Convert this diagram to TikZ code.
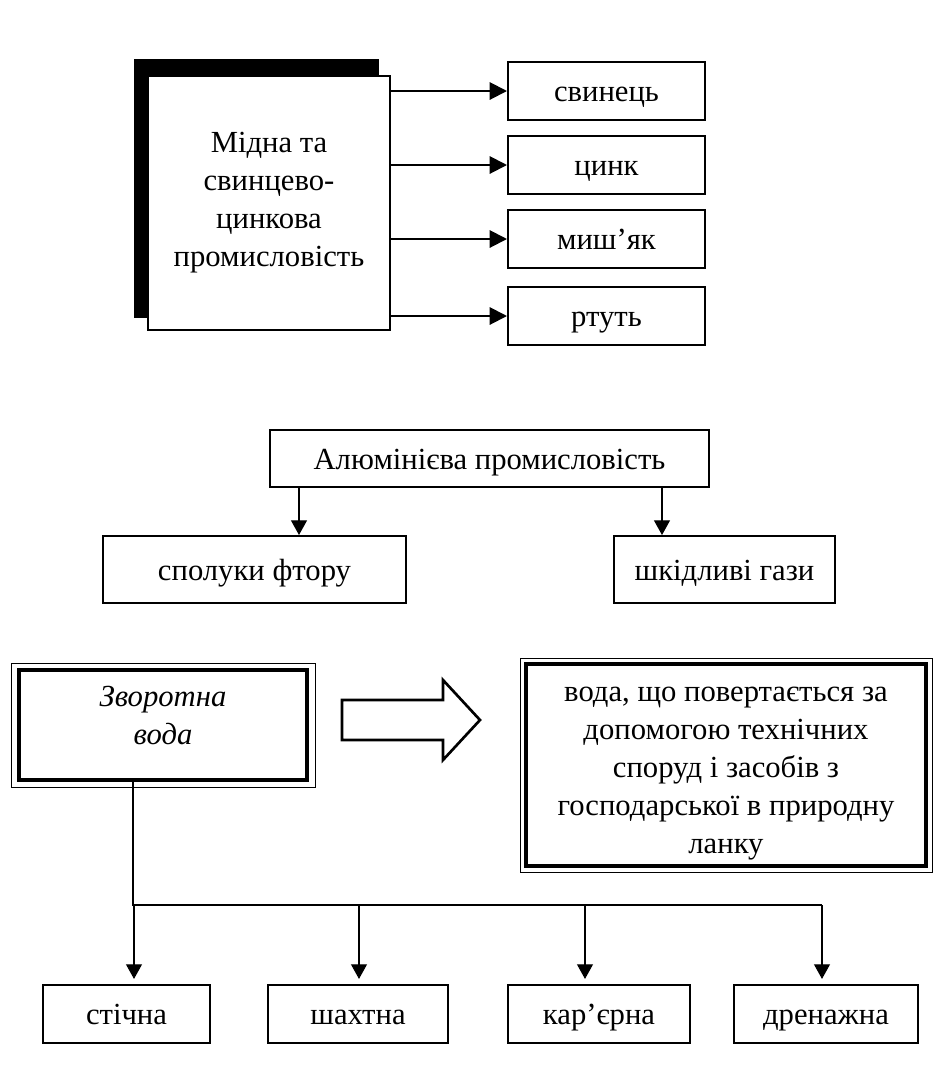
\documentclass[tikz,border=0pt]{standalone}
\usepackage{fontspec}
\setmainfont{Liberation Serif}
\usetikzlibrary{arrows.meta,backgrounds}

\begin{document}
\begin{tikzpicture}[x=0.75pt,y=0.75pt,yscale=-1,xscale=1,
  txt/.style={font=\fontsize{23}{28.5}\selectfont},
  box/.style={draw,line width=1.5pt,fill=white,inner sep=0pt,align=center,txt},
  oneline/.style={box,text height=16pt,text depth=0pt},
  lowbox/.style={oneline,line width=1.1pt,minimum height=43.5pt},
  heavybox/.style={box,line width=3pt},
  arr/.style={line width=1.5pt,-{Triangle[length=13pt,width=13pt]}},
  tarr/.style={line width=0.8pt,-{Triangle[length=11pt,width=12pt]}}]
\useasboundingbox (0,0) rectangle (946,1068);

%Shape: Copper / lead-zinc block with shadow
\node[box,minimum width=181.5pt,minimum height=190.5pt] (mz) at (269,203) {Мідна та\\свинцево-\\цинкова\\промисловість};
\begin{scope}[on background layer]
\fill ([shift={(-13,-16)}]mz.north west) rectangle ([shift={(-12,-13)}]mz.south east);
\end{scope}

%Shape: output boxes
\node[oneline,minimum width=147.75pt,minimum height=43.5pt] (sv) at (606.5,91) {свинець};
\node[oneline,minimum width=147.75pt,minimum height=43.5pt] (cn) at (606.5,165) {цинк};
\node[oneline,minimum width=147.75pt,minimum height=43.5pt] (ms) at (606.5,239) {миш’як};
\node[oneline,minimum width=147.75pt,minimum height=43.5pt] (rt) at (606.5,316) {ртуть};

%Straight Lines
\draw[arr] (mz.east |- sv.west) -- (sv.west);
\draw[arr] (mz.east |- cn.west) -- (cn.west);
\draw[arr] (mz.east |- ms.west) -- (ms.west);
\draw[arr] (mz.east |- rt.west) -- (rt.west);

%Shape: aluminium block
\node[oneline,minimum width=329.25pt,minimum height=42.75pt] (al) at (489.5,458.5) {Алюмінієва промисловість};
\node[oneline,minimum width=227.25pt,minimum height=50.25pt] (sp) at (254.5,569.5) {сполуки фтору};
\node[oneline,minimum width=165.75pt,minimum height=50.25pt] (sk) at (724.5,569.5) {шкідливі гази};

\coordinate (a1) at (299,0);
\coordinate (a2) at (662,0);
\draw[tarr] (al.south -| a1) -- (sp.north -| a1);
\draw[tarr] (al.south -| a2) -- (sk.north -| a2);

%Shape: return water block (double frame)
\node[heavybox,minimum width=216pt,minimum height=82.5pt,text depth=15pt,font=\fontsize{23}{28.5}\selectfont\itshape] (zv) at (163,725) {Зворотна\\вода};
\draw[line width=0.6pt] ([shift={(-6,-5)}]zv.north west) rectangle ([shift={(6,5)}]zv.south east);

\node[heavybox,minimum width=300pt,minimum height=151.5pt,text height=137pt] (vd) at (726,765) {вода, що повертається за\\допомогою технічних\\споруд і засобів з\\господарської в природну\\ланку};
\draw[line width=0.6pt] ([shift={(-4,-4)}]vd.north west) rectangle ([shift={(4,4)}]vd.south east);

%Shape: Block Arrow
\draw[line width=2pt,fill=white] (342,700) -- (443,700) -- (443,680) -- (480,720) -- (443,760) -- (443,740) -- (342,740) -- cycle;

%Shape: kinds of return water
\node[lowbox,minimum width=125.25pt] (st) at (126.5,1014) {стічна};
\node[lowbox,minimum width=135pt] (sh) at (358,1014) {шахтна};
\node[lowbox,minimum width=136.5pt] (kr) at (599,1014) {кар’єрна};
\node[lowbox,minimum width=138pt] (dr) at (826,1014) {дренажна};

%Straight Lines
\coordinate (bus) at (133,905);
\coordinate (d1) at (134,0);
\coordinate (d2) at (359,0);
\coordinate (d3) at (585,0);
\coordinate (d4) at (822,0);
\draw[line width=0.8pt] (zv.south -| bus) -- (bus) -- (bus -| d4);
\draw[tarr,shorten >=4] (bus -| d1) -- (st.north -| d1);
\draw[tarr,shorten >=4] (bus -| d2) -- (sh.north -| d2);
\draw[tarr,shorten >=4] (bus -| d3) -- (kr.north -| d3);
\draw[tarr,shorten >=4] (bus -| d4) -- (dr.north -| d4);

\end{tikzpicture}
\end{document}
